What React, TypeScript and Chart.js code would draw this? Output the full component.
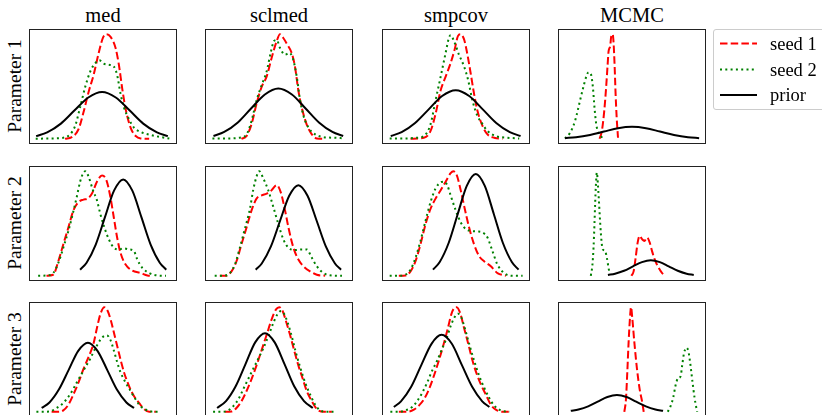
import React, { useEffect, useRef } from "react";
import { Chart, registerables } from "chart.js";

Chart.register(...registerables);

type Pt = [number, number];

// ---- Column / row / legend labels ----
const methods = ["med", "sclmed", "smpcov", "MCMC"];
const paramLabels = ["Parameter 1", "Parameter 2", "Parameter 3"];
const seriesLabels = ["seed 1", "seed 2", "prior"];

// ---- Parameter 1 ----
const med1Seed1: Pt[] = [[21.8,0],[26.8,1.6],[31.8,9.1],[35.5,25.3],[39.3,44.8],[43,61],[46.8,82.1],[50,96.8],[52.5,100],[55.5,97.7],[59.3,87],[61.8,70.8],[64.3,48],[66.8,28.6],[70.5,10.7],[74.3,2.6],[78,0.3],[84.3,0]];
const med1Seed2: Pt[] = [[0,0],[10.5,0.3],[20.5,1],[25.5,4.2],[29.3,12.3],[33,30.2],[36.8,49.7],[40.5,64.3],[44.3,72.4],[47.3,75],[50.5,71.8],[54.3,70.8],[58,69.2],[60.5,61],[63,43.2],[65.5,30.2],[69.3,18.8],[73,10.7],[78,6.5],[85.5,3.6],[93,1.6],[99.3,0.3]];
const med1Prior: Pt[] = [[0.3,2.5],[8.5,6.1],[18.7,14.5],[28.9,27.2],[39.1,39.5],[49.3,44.8],[59.5,39.5],[69.7,27.2],[79.9,14.5],[90.1,6.1],[98.2,2.5]];

const sclmed1Seed1: Pt[] = [[22.1,0],[25.9,2.6],[29.6,14],[33.3,33.4],[37.1,49.7],[40.8,59.4],[44.5,77.3],[48.3,93.5],[50.7,100],[53.2,96.4],[56.2,90],[59.5,81.8],[61.9,68.8],[64.4,46.1],[66.9,30],[70.6,13.6],[74.4,4.2],[78.1,0.3],[83.1,0]];
const sclmed1Seed2: Pt[] = [[0.5,0.3],[10.9,0.3],[20.9,1],[25.9,4.2],[29.6,17.2],[33.3,36.7],[37.1,51.3],[40.8,64.3],[43.8,82.1],[46.3,93.5],[48.3,94.5],[50.7,87],[54.5,80.5],[57.7,82.1],[60.2,77.3],[63.2,59.4],[65.7,36.7],[68.2,22],[71.9,10.7],[76.9,4.2],[83.1,1.6],[90.5,1],[96.8,0.6]];
const sclmed1Prior: Pt[] = [[1.3,2.7],[9.3,6.5],[19.4,15.6],[29.4,29.2],[39.5,42.4],[49.5,48.1],[59.6,42.4],[69.6,29.2],[79.7,15.6],[89.7,6.5],[97.7,2.7]];

const smpcov1Seed1: Pt[] = [[16.2,0],[26.1,1],[31.1,7.5],[34.8,23.7],[38.6,46.4],[42.3,59.4],[46,72.4],[49,85.4],[51.5,98.4],[53.5,100],[56,95.1],[58.5,80.5],[60.9,62.7],[63.4,43.2],[65.9,27],[69.7,12.3],[73.4,4.2],[78.4,1],[84.6,0]];
const smpcov1Seed2: Pt[] = [[0.7,0.3],[11.2,0.3],[21.1,1],[26.1,2.6],[31.1,14],[34.8,36.7],[38.6,59.4],[42.3,82.1],[44.8,96.8],[46,99],[48.5,93.5],[52.2,80.5],[56,69.2],[59,56.2],[62.2,36.7],[65.9,22],[69.7,14],[73.4,7.5],[79.6,2.6],[88.3,1],[97,0.3]];
const smpcov1Prior: Pt[] = [[1.5,2.6],[9.6,6.3],[19.6,15.1],[29.7,28.1],[39.7,40.9],[49.8,46.4],[59.8,40.9],[69.9,28.1],[79.9,15.1],[90,6.3],[98,2.6]];

const mcmc1Seed1: Pt[] = [[25.9,0],[27.6,7.5],[29.4,27],[30.8,49.7],[31.8,69.2],[32.6,83.8],[33.8,88.6],[34.6,98.4],[35.6,100],[36.3,91.9],[37.1,69.2],[37.8,43.2],[38.6,20.5],[39.6,1]];
const mcmc1Seed2: Pt[] = [[0.3,0.3],[4,5.8],[7.7,17.2],[11.4,36.7],[13.9,49.7],[16.4,61],[17.7,63.6],[19.4,62],[20.9,49.7],[22.1,30.2],[23.4,14],[25.1,5.8],[26.9,2.6],[28.4,0]];
const mcmc1Prior: Pt[] = [[0.1,0.6],[8.4,1.5],[18.8,3.7],[29.2,6.9],[39.6,10.1],[50,11.4],[60.4,10.1],[70.8,6.9],[81.2,3.7],[91.6,1.5],[99.9,0.6]];

// ---- Parameter 2 ----
const med2Seed1: Pt[] = [[8,0],[13,1],[16.8,13.9],[20.5,30.1],[24.3,46.3],[28,62.5],[31.8,70.6],[35.5,72.8],[38.5,73.8],[41.8,78.6],[45.5,90],[49.3,95.8],[52.5,91.6],[55.5,75.4],[58,56],[60.5,36.6],[63,22],[66.8,10.7],[71.8,4.9],[78,2.6],[83,0.3],[85.5,0]];
const med2Seed2: Pt[] = [[1.8,0],[8,0.3],[13,2.6],[16.8,12.3],[20.5,26.9],[24.3,43],[27.5,59.2],[30.5,75.4],[33,90],[35,97.4],[36.8,100],[39.3,94.8],[42.5,81.9],[45.5,72.2],[48,59.2],[51,46.3],[54.3,35],[58,26.9],[61.8,25.2],[65.5,26.2],[69.3,25.2],[73,23.6],[75.5,15.5],[79.3,7.4],[84.3,2.6],[90.5,0.3],[96.8,0]];
const med2Prior: Pt[] = [[33,5.8],[37.8,12.5],[44.6,29.9],[51.4,55.9],[58.2,81.4],[65,92.2],[71.8,81.4],[78.6,55.9],[85.4,29.9],[92.2,12.5],[97,5.8]];

const sclmed2Seed1: Pt[] = [[6,0],[10.9,0],[14.7,4.2],[18.4,13.9],[22.1,30.1],[25.9,46.3],[29.6,62.5],[33.3,73.8],[37.1,77],[40.8,78.6],[44.5,81.9],[48.3,86.7],[51.2,80.3],[54.5,62.5],[57,46.3],[60.7,26.9],[64.4,15.5],[68.2,9.1],[73.1,4.2],[78.1,1],[84.3,0]];
const sclmed2Seed2: Pt[] = [[2.2,0],[8.5,0],[13.4,2.6],[17.2,10.7],[20.9,26.9],[24.6,44.7],[28.4,64.1],[30.8,81.9],[33.3,94.8],[35.3,100],[38.3,93.2],[42,81.9],[45.8,65.7],[49.5,49.5],[53.2,35],[57,26.9],[61.9,24.6],[66.9,25.2],[70.6,25.2],[74.4,17.2],[78.1,9.1],[83.1,2.6],[89.3,0.3],[96.8,0]];
const sclmed2Prior: Pt[] = [[32.7,5.8],[37.2,11.7],[44,28.1],[50.8,52.6],[57.6,76.5],[64.4,86.7],[71.2,76.5],[78,52.6],[84.8,28.1],[91.6,11.7],[96.1,5.8]];

const smpcov2Seed1: Pt[] = [[7.5,0],[12.4,0.3],[16.2,4.2],[19.9,13.9],[23.6,30.1],[27.4,49.5],[31.1,64.1],[34.8,73.8],[38.6,81.9],[42.3,90],[46,98.1],[48,100],[50.5,96.4],[53.5,81.9],[56.5,64.1],[59.7,46.3],[63.4,30.1],[67.2,18.8],[70.9,13.9],[75.9,9.1],[80.8,2.6],[87.1,0]];
const smpcov2Seed2: Pt[] = [[0.7,0],[7.5,0],[12.4,1],[16.2,5.8],[19.9,17.2],[23.6,33.3],[27.4,52.8],[31.1,70.6],[34.8,83.5],[38.6,89.3],[41,90],[43.5,86.7],[46,77],[49.8,62.5],[53.5,51.1],[57.2,44.7],[60.9,43],[65.9,42.4],[69.7,41.4],[73.4,36.6],[77.1,23.6],[80.8,10.7],[85.8,2.6],[92,0],[99.5,0]];
const smpcov2Prior: Pt[] = [[32.9,5.8],[37.9,13.2],[44.6,31.6],[51.3,59.1],[58,86],[64.7,97.4],[71.4,86],[78.1,59.1],[84.8,31.6],[91.5,13.2],[96.5,5.8]];

const mcmc2Seed1: Pt[] = [[49.5,0],[51.2,4.2],[52.7,17.2],[54.2,31.7],[55.7,38.2],[57.5,35],[59.2,33.3],[61.2,36.6],[63.2,31.7],[64.9,23.6],[67.4,13.9],[69.9,7.4],[72.4,2.6],[74.9,0]];
const mcmc2Seed2: Pt[] = [[19.4,0],[20.6,10.7],[21.4,26.9],[22.1,49.5],[22.6,68.9],[23.1,85.1],[23.9,98.7],[24.6,88.3],[25.4,72.2],[26.1,56],[26.9,39.8],[27.9,26.9],[28.9,24.6],[30.1,23.6],[31.3,17.2],[32.6,7.4],[33.3,2.6]];
const mcmc2Prior: Pt[] = [[32.1,0.8],[37.4,2],[44.1,4.8],[50.7,9],[57.4,13.1],[64,14.9],[70.7,13.1],[77.3,9],[84,4.8],[90.6,2],[95.9,0.8]];

// ---- Parameter 3 ----
const med3Seed1: Pt[] = [[11.8,0],[16.8,0],[20.5,1.3],[24.3,6.8],[28,16.6],[31.8,28],[35.5,41],[39.3,52.4],[43,65.5],[45.5,80.1],[48,93.2],[51,100],[53.5,96.4],[56,86.6],[58.5,73.6],[61,60.6],[63.5,47.6],[66,36.2],[69.3,24.8],[73,15],[76.8,8.5],[80.5,2.6],[84.3,0],[89.3,0]];
const med3Seed2: Pt[] = [[0.5,0],[5.5,0],[10.5,0.3],[15.5,3.6],[20.5,8.5],[25.5,16.6],[30.5,28],[35.5,39.4],[40.5,50.8],[44.3,60.6],[48,68.7],[51,72.6],[53,73],[55.5,68.7],[58,58.9],[60.5,47.6],[63,37.8],[66.8,28],[70.5,19.9],[74.3,11.7],[78,5.2],[83,1.3],[88,0],[91.8,0]];
const med3Prior: Pt[] = [[4.4,3.7],[10.2,8.9],[17.3,21.5],[24.5,40.1],[31.6,58.3],[38.8,66.1],[45.9,58.3],[53.1,40.1],[60.2,21.5],[67.4,8.9],[73.1,3.7]];

const sclmed3Seed1: Pt[] = [[9.7,0],[14.7,0.3],[18.4,3.6],[22.1,10.1],[25.9,19.9],[29.6,31.3],[33.3,44.3],[37.1,59],[40.8,73.6],[44.5,88.3],[47.8,98],[50.2,100],[52.7,96.4],[55.2,86.6],[58.2,73.6],[61.2,59],[64.4,44.3],[67.7,31.3],[70.6,19.9],[74.4,10.1],[78.1,2.6],[83.1,0],[89.3,0]];
const sclmed3Seed2: Pt[] = [[1,0],[7.2,0],[12.2,1.3],[15.9,5.2],[19.7,11.7],[23.4,21.5],[27.1,31.3],[30.8,41],[34.6,50.8],[38.3,60.6],[42,72],[45.8,85],[48.8,93.2],[51.5,96.4],[54,93.2],[56.5,85],[59.5,72],[62.4,57.3],[65.7,42.7],[69.4,28],[73.1,16.6],[76.9,6.8],[80.6,1.3],[85.6,0],[90.5,0]];
const sclmed3Prior: Pt[] = [[4,3.6],[10.6,10.2],[17.8,24.4],[25.1,45.6],[32.3,66.4],[39.6,75.2],[46.8,66.4],[54.1,45.6],[61.3,24.4],[68.6,10.2],[75.1,3.6]];

const smpcov3Seed1: Pt[] = [[7.5,0],[13.7,0],[18.7,2],[22.4,5.9],[26.1,11.7],[29.9,21.5],[33.6,34.5],[37.3,49.2],[41,65.5],[44,80.1],[46.5,93.2],[49,99.7],[50.5,100],[53,94.8],[56,80.1],[59,65.5],[62.2,49.2],[65.4,36.2],[68.4,26.4],[72.1,16.6],[75.9,6.8],[79.6,2],[84.6,0],[90.8,0]];
const smpcov3Seed2: Pt[] = [[1.2,0],[7.5,0],[12.4,1.3],[17.4,4.6],[21.1,10.1],[24.9,18.2],[28.6,28],[32.3,39.4],[36.1,49.2],[39.8,60.6],[43,70.4],[46,81.8],[49,90.6],[51.5,93.8],[54,90],[57.2,76.9],[60.4,62.2],[63.4,49.2],[67.2,34.5],[70.9,23.1],[74.6,13.4],[78.4,5.9],[83.3,1.3],[89.6,0]];
const smpcov3Prior: Pt[] = [[3.8,4.6],[9.1,10],[16.7,23.9],[24.2,44.6],[31.8,65],[39.3,73.6],[46.9,65],[54.4,44.6],[62,23.9],[69.5,10],[74.8,4.6]];

const mcmc3Seed1: Pt[] = [[44.3,0],[45.5,11.7],[46.5,37.8],[47.5,67.1],[48.5,89.9],[49.3,100],[50.2,89.9],[51.7,67.1],[53.7,41],[55.7,21.5],[57.7,8.5],[58.7,0]];
const mcmc3Seed2: Pt[] = [[76.6,0],[78.6,5.2],[80.6,13.4],[82.3,24.8],[84.1,31.9],[86.1,33.9],[87.3,44.3],[88.6,55.7],[90.5,61.2],[92,57.3],[93.5,44.3],[95,28],[96.5,13.4],[97.7,4.6],[98.5,0]];
const mcmc3Prior: Pt[] = [[4.5,0.9],[10.2,2.2],[17.4,5.2],[24.5,9.7],[31.7,14.1],[38.8,16],[46,14.1],[53.1,9.7],[60.3,5.2],[67.4,2.2],[73.1,0.9]];

// rows = parameters, columns = methods, each cell = [seed 1, seed 2, prior]
const grid: Pt[][][][] = [
  [[med1Seed1, med1Seed2, med1Prior], [sclmed1Seed1, sclmed1Seed2, sclmed1Prior], [smpcov1Seed1, smpcov1Seed2, smpcov1Prior], [mcmc1Seed1, mcmc1Seed2, mcmc1Prior]],
  [[med2Seed1, med2Seed2, med2Prior], [sclmed2Seed1, sclmed2Seed2, sclmed2Prior], [smpcov2Seed1, smpcov2Seed2, smpcov2Prior], [mcmc2Seed1, mcmc2Seed2, mcmc2Prior]],
  [[med3Seed1, med3Seed2, med3Prior], [sclmed3Seed1, sclmed3Seed2, sclmed3Prior], [smpcov3Seed1, smpcov3Seed2, smpcov3Prior], [mcmc3Seed1, mcmc3Seed2, mcmc3Prior]],
];

const COLORS = ["#ff0000", "#008000", "#000000"];
const DASHES: number[][] = [[7.5, 3.2], [2, 3.3], []];
const FONT = '"Liberation Serif", "Times New Roman", serif';

const COL_X = [29, 205, 382, 558];
const ROW_Y = [29, 166, 302];
const PW = 148;
const PH = 115;

const framePlugin = {
  id: "frame",
  afterDraw(chart: any) {
    const { ctx, width, height } = chart;
    ctx.save();
    ctx.strokeStyle = "#222";
    ctx.lineWidth = 1;
    ctx.setLineDash([]);
    ctx.strokeRect(0.5, 0.5, width - 1, height - 1);
    ctx.restore();
  },
};

function Panel({ series, left, top }: { series: Pt[][]; left: number; top: number }) {
  const ref = useRef<HTMLCanvasElement>(null);
  useEffect(() => {
    if (!ref.current) return;
    const order = [2, 1, 0]; // first dataset is drawn on top -> prior on top
    const chart = new Chart(ref.current, {
      type: "line",
      data: {
        datasets: order.map((i) => ({
          label: seriesLabels[i],
          data: series[i].map(([x, y]) => ({ x, y })),
          borderColor: COLORS[i],
          borderWidth: 2,
          borderDash: DASHES[i],
          borderCapStyle: "butt",
          pointRadius: 0,
          fill: false,
          cubicInterpolationMode: "monotone",
        })),
      },
      options: {
        responsive: false,
        animation: false,
        events: [],
        layout: { padding: 0 },
        plugins: {
          legend: { display: false },
          tooltip: { enabled: false },
          title: { display: false },
        },
        scales: {
          x: { type: "linear", min: -5, max: 105, display: false },
          y: { type: "linear", min: -5, max: 105, display: false },
        },
      } as any,
      plugins: [framePlugin],
    });
    return () => chart.destroy();
  }, [series]);
  return (
    <canvas
      ref={ref}
      width={PW}
      height={PH}
      style={{ position: "absolute", left, top, width: PW, height: PH }}
    />
  );
}

const LEG_Y = [43.5, 69.5, 95];

export default function App() {
  return (
    <div
      style={{
        position: "fixed",
        left: 0,
        top: 0,
        width: 822,
        height: 415,
        overflow: "hidden",
        background: "#fff",
        fontFamily: FONT,
        color: "#000",
      }}
    >
      {methods.map((m, c) => (
        <div
          key={m}
          style={{
            position: "absolute",
            left: COL_X[c] + PW / 2,
            top: 5,
            transform: "translateX(-50%)",
            fontSize: 20.5,
            lineHeight: "20.5px",
            whiteSpace: "nowrap",
          }}
        >
          {m}
        </div>
      ))}
      {paramLabels.map((p, r) => (
        <div
          key={p}
          style={{
            position: "absolute",
            left: 15.4,
            top: ROW_Y[r] + 57,
            transform: "translate(-50%, -50%) rotate(-90deg)",
            fontSize: 19.5,
            lineHeight: "19.5px",
            whiteSpace: "pre",
          }}
        >
          {p}
        </div>
      ))}
      {grid.map((row, r) =>
        row.map((cell, c) => (
          <Panel key={`${r}-${c}`} series={cell} left={COL_X[c]} top={ROW_Y[r]} />
        ))
      )}
      <div
        style={{
          position: "absolute",
          left: 713,
          top: 29,
          width: 120,
          height: 81,
          border: "1px solid #cccccc",
          borderRadius: 3,
          background: "#fff",
          boxSizing: "border-box",
        }}
      />
      <svg
        width={822}
        height={415}
        style={{ position: "absolute", left: 0, top: 0, pointerEvents: "none" }}
      >
        {seriesLabels.map((s, i) => (
          <line
            key={s}
            x1={720}
            x2={757}
            y1={LEG_Y[i]}
            y2={LEG_Y[i]}
            stroke={COLORS[i]}
            strokeWidth={2}
            strokeDasharray={DASHES[i].length ? DASHES[i].join(" ") : undefined}
          />
        ))}
      </svg>
      {seriesLabels.map((s, i) => (
        <div
          key={s}
          style={{
            position: "absolute",
            left: 770,
            top: LEG_Y[i] - 9,
            fontSize: 18.5,
            lineHeight: "18.5px",
            whiteSpace: "nowrap",
          }}
        >
          {s}
        </div>
      ))}
    </div>
  );
}
